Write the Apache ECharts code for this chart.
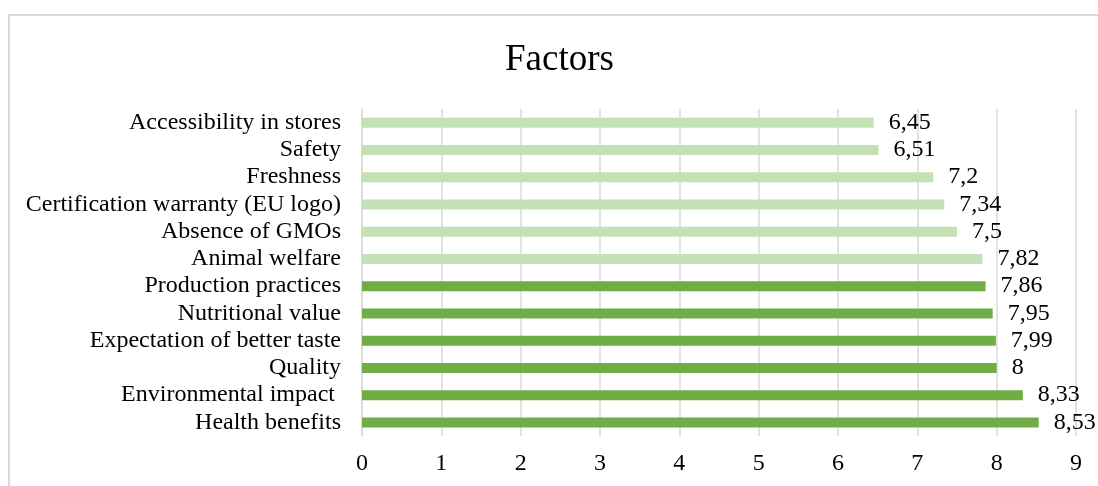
<!DOCTYPE html>
<html>
<head>
<meta charset="utf-8">
<script src="https://cdn.jsdelivr.net/npm/echarts@6/dist/echarts.min.js"></script>
<style>
  html, body { margin: 0; padding: 0; background: #fff; }
  #chart { width: 1098px; height: 486px; }
</style>
</head>
<body>
<div id="chart"></div>
<script>
// Factor names, listed from the bottom bar up
const categories = [
  'Health benefits',
  'Environmental impact ',
  'Quality',
  'Expectation of better taste',
  'Nutritional value',
  'Production practices',
  'Animal welfare',
  'Absence of GMOs',
  'Certification warranty (EU logo)',
  'Freshness',
  'Safety',
  'Accessibility in stores'
];
// Mean scores per factor
const scores = [8.53, 8.33, 8, 7.99, 7.95, 7.86, 7.82, 7.5, 7.34, 7.2, 6.51, 6.45];
// How many of the leading factors get the darker shade
const leadingCount = 6;
const xTicks = [0, 1, 2, 3, 4, 5, 6, 7, 8, 9];

const DARK = '#70AD47';
const LIGHT = '#C5E0B4';
const FONT = '"Liberation Serif", "Times New Roman", serif';
const GRID_GRAY = '#d9d9d9';

const chart = echarts.init(document.getElementById('chart'), null, { renderer: 'canvas' });

chart.setOption({
  animation: false,
  backgroundColor: '#fff',
  textStyle: { fontFamily: FONT, color: '#000' },
  title: {
    text: 'Factors',
    left: 500,
    top: 37,
    textStyle: { fontFamily: FONT, fontSize: 37, fontWeight: 'normal', color: '#000' }
  },
  graphic: [{
    type: 'rect',
    silent: true,
    shape: { x: 9, y: 15, width: 1200, height: 600 },
    style: { fill: 'none', stroke: GRID_GRAY, lineWidth: 2 }
  }],
  grid: { left: 362, right: 22, top: 109, bottom: 50, containLabel: false },
  xAxis: {
    type: 'value',
    min: xTicks[0],
    max: xTicks[xTicks.length - 1],
    interval: 1,
    axisLine: { show: false },
    axisTick: { show: false },
    splitLine: { show: true, lineStyle: { color: GRID_GRAY, width: 1.5 } },
    axisLabel: { fontFamily: FONT, fontSize: 24, color: '#000', margin: 16 }
  },
  yAxis: {
    type: 'category',
    data: categories,
    axisLine: { show: true, lineStyle: { color: GRID_GRAY, width: 1.5 } },
    axisTick: { show: false },
    axisLabel: { fontFamily: FONT, fontSize: 24, color: '#000', margin: 21, interval: 0 }
  },
  series: [{
    type: 'bar',
    data: scores,
    barWidth: 10,
    itemStyle: {
      color: p => (p.dataIndex < leadingCount ? DARK : LIGHT)
    },
    label: {
      show: true,
      position: 'right',
      distance: 15,
      fontFamily: FONT,
      fontSize: 24,
      color: '#000',
      formatter: p => String(p.value).replace('.', ',')
    }
  }]
});
</script>
</body>
</html>
